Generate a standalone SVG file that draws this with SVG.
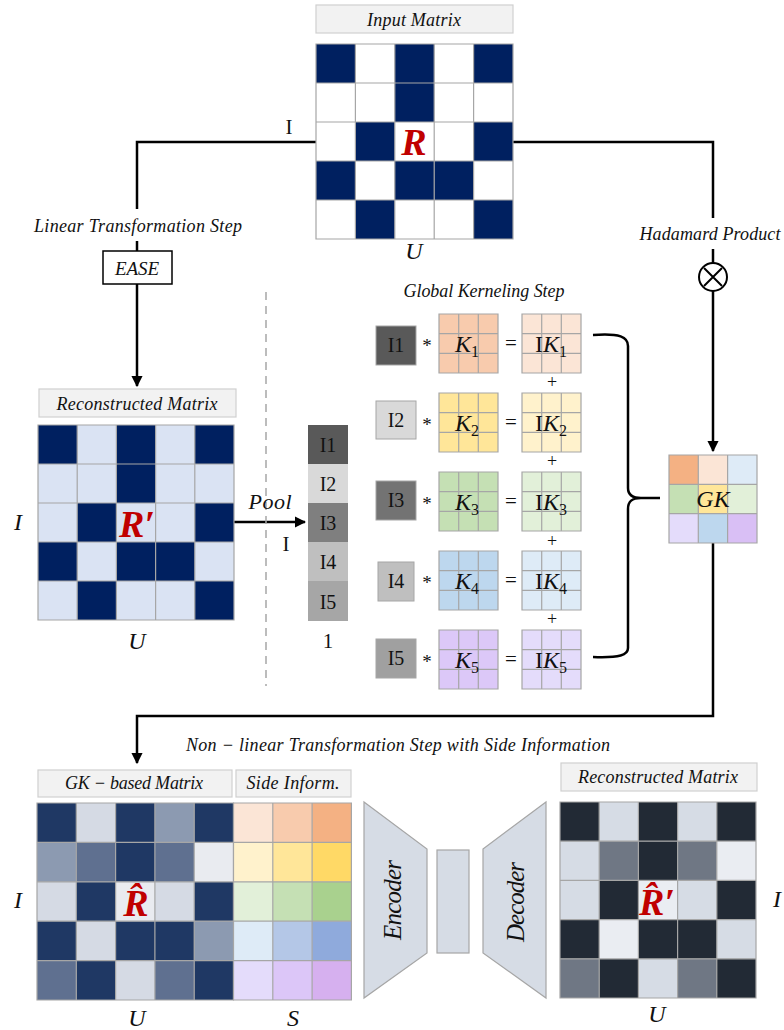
<svg xmlns="http://www.w3.org/2000/svg" width="784" height="1030" viewBox="0 0 784 1030">
<defs>
<style>
.t{font-family:"Liberation Serif",serif;font-style:italic;fill:#111}
.u{font-family:"Liberation Serif",serif;fill:#111}
.lbl{fill:#f2f2f2;stroke:#d0d0d0;stroke-width:1.2}
.gl{fill:none;stroke:#a6a6a6;stroke-width:1.2}
.big{font-family:"Liberation Serif",serif;font-style:italic;font-weight:bold;fill:#c00000}
.con{fill:none;stroke:#000;stroke-width:2.5}
</style>
<marker id="ah" viewBox="0 0 10 10" refX="9" refY="5" markerWidth="4.5" markerHeight="4.5" orient="auto"><path d="M0,0 L10,5 L0,10 z" fill="#000"/></marker>
</defs>
<rect width="784" height="1030" fill="#fff"/>

<g id="connectors">
<path class="con" d="M316,142 H137 V209"/>
<path class="con" d="M137,241 V251"/>
<path class="con" d="M137,284 V386" marker-end="url(#ah)"/>
<path class="con" d="M513,142 H713 V218"/>
<path class="con" d="M713,249 V263"/>
<path class="con" d="M713,291 V451" marker-end="url(#ah)"/>
<path class="con" d="M234,522 H305" marker-end="url(#ah)"/>
<path class="con" d="M713,543 V716 H137 V763" marker-end="url(#ah)"/>
<path class="con" d="M593,335 C620,333 628,337 628,346 L628,488 C628,495 632,498 641,498 L660,498 M641,498 C632,498 628,501 628,509 L628,648 C628,655 620,658 593,657"/>
<line x1="266" y1="292" x2="266" y2="686" stroke="#a6a6a6" stroke-width="1.5" stroke-dasharray="8,6"/>
</g>

<g id="labels-steps">
<text class="t" x="138" y="232" font-size="18" text-anchor="middle" textLength="208">Linear Transformation Step</text>
<text class="t" x="710" y="240" font-size="18" text-anchor="middle" textLength="141">Hadamard Product</text>
<text class="t" x="484" y="297" font-size="18" text-anchor="middle" textLength="161">Global Kerneling Step</text>
<text class="t" x="398" y="751" font-size="18" text-anchor="middle" textLength="424">Non − linear Transformation Step with Side Information</text>
<text class="t" x="270" y="509" font-size="22" text-anchor="middle" textLength="43">Pool</text>
<text class="u" x="289" y="134" font-size="21" text-anchor="middle">I</text>
<text class="u" x="286" y="551" font-size="21" text-anchor="middle">I</text>
</g>

<g id="ease">
<rect x="103" y="251" width="69" height="33" fill="#fff" stroke="#000" stroke-width="1.5"/>
<text class="t" x="137" y="275" font-size="19" text-anchor="middle" textLength="44">EASE</text>
</g>

<g id="hadamard">
<circle cx="713" cy="277" r="14" fill="#fff" stroke="#000" stroke-width="2"/>
<path d="M704,268 L722,286 M722,268 L704,286" stroke="#000" stroke-width="2"/>
</g>

<g id="input-matrix">
<rect class="lbl" x="316" y="5" width="197" height="28"/>
<text class="t" x="414" y="26" font-size="18" text-anchor="middle" textLength="94">Input Matrix</text>
<rect x="316" y="44" width="197" height="195" fill="#fff"/>
<g fill="#002060">
<rect x="316" y="44" width="39.4" height="39"/><rect x="394.8" y="44" width="39.4" height="39"/><rect x="473.6" y="44" width="39.4" height="39"/>
<rect x="394.8" y="83" width="39.4" height="39"/>
<rect x="355.4" y="122" width="39.4" height="39"/><rect x="473.6" y="122" width="39.4" height="39"/>
<rect x="316" y="161" width="39.4" height="39"/><rect x="394.8" y="161" width="39.4" height="39"/><rect x="434.2" y="161" width="39.4" height="39"/>
<rect x="355.4" y="200" width="39.4" height="39"/><rect x="473.6" y="200" width="39.4" height="39"/>
</g>
<path class="gl" d="M316,44 H513 V239 H316 Z M355.4,44 V239 M394.8,44 V239 M434.2,44 V239 M473.6,44 V239 M316,83 H513 M316,122 H513 M316,161 H513 M316,200 H513"/>
<text class="big" x="414" y="155" font-size="38" text-anchor="middle">R</text>
<text class="t" x="414" y="259" font-size="24" text-anchor="middle">U</text>
</g>

<g id="reconstructed-matrix">
<rect class="lbl" x="39" y="389" width="197" height="28"/>
<text class="t" x="137" y="410" font-size="18" text-anchor="middle" textLength="161">Reconstructed Matrix</text>
<rect x="38" y="425" width="196" height="195" fill="#dae3f3"/>
<g fill="#002060">
<rect x="38" y="425" width="39.2" height="39"/><rect x="116.4" y="425" width="39.2" height="39"/><rect x="194.8" y="425" width="39.2" height="39"/>
<rect x="116.4" y="464" width="39.2" height="39"/>
<rect x="77.2" y="503" width="39.2" height="39"/><rect x="194.8" y="503" width="39.2" height="39"/>
<rect x="38" y="542" width="39.2" height="39"/><rect x="116.4" y="542" width="39.2" height="39"/><rect x="155.6" y="542" width="39.2" height="39"/>
<rect x="77.2" y="581" width="39.2" height="39"/><rect x="194.8" y="581" width="39.2" height="39"/>
</g>
<path class="gl" d="M38,425 H234 V620 H38 Z M77.2,425 V620 M116.4,425 V620 M155.6,425 V620 M194.8,425 V620 M38,464 H234 M38,503 H234 M38,542 H234 M38,581 H234"/>
<text class="big" x="137" y="537" font-size="38" text-anchor="middle">R′</text>
<text class="t" x="18" y="530" font-size="24" text-anchor="middle">I</text>
<text class="t" x="137" y="649" font-size="24" text-anchor="middle">U</text>
</g>

<g id="pooled-vector">
<rect x="308" y="425" width="40" height="39" fill="#595959"/>
<rect x="308" y="464" width="40" height="39" fill="#d9d9d9"/>
<rect x="308" y="503" width="40" height="39" fill="#7f7f7f"/>
<rect x="308" y="542" width="40" height="39" fill="#bfbfbf"/>
<rect x="308" y="581" width="40" height="40" fill="#a6a6a6"/>
<g class="u" font-size="20" text-anchor="middle">
<text x="328" y="452">I1</text><text x="328" y="491">I2</text><text x="328" y="530">I3</text><text x="328" y="569">I4</text><text x="328" y="609">I5</text>
</g>
<text class="u" x="328" y="648" font-size="21" text-anchor="middle">1</text>
</g>

<g id="kernel-1">
<rect x="376" y="326" width="40" height="39" fill="#595959" stroke="#a6a6a6"/>
<text class="u" x="396" y="352" font-size="20" text-anchor="middle">I1</text>
<text class="u" x="427" y="352" font-size="19" text-anchor="middle">*</text>
<rect x="439" y="314" width="59" height="59" fill="#f8cbad"/>
<path class="gl" d="M439,314 h59 v59 h-59 z M458.7,314 v59 M478.3,314 v59 M439,333.7 h59 M439,353.3 h59"/>
<text class="t" x="467" y="352" font-size="24" text-anchor="middle">K<tspan font-style="normal" font-size="16" dy="5">1</tspan></text>
<text class="u" x="511" y="350" font-size="21" text-anchor="middle">=</text>
<rect x="522" y="314" width="59" height="59" fill="#fbe5d6"/>
<path class="gl" d="M522,314 h59 v59 h-59 z M541.7,314 v59 M561.3,314 v59 M522,333.7 h59 M522,353.3 h59"/>
<text class="u" x="551" y="352" font-size="24" text-anchor="middle">I<tspan font-style="italic">K</tspan><tspan font-size="16" dy="5">1</tspan></text>
<text class="u" x="552" y="388" font-size="18" text-anchor="middle">+</text>
</g>

<g id="kernel-2">
<rect x="376" y="401" width="40" height="38" fill="#d9d9d9" stroke="#a6a6a6"/>
<text class="u" x="396" y="427" font-size="20" text-anchor="middle">I2</text>
<text class="u" x="427" y="431" font-size="19" text-anchor="middle">*</text>
<rect x="439" y="393" width="59" height="59" fill="#ffe699"/>
<path class="gl" d="M439,393 h59 v59 h-59 z M458.7,393 v59 M478.3,393 v59 M439,412.7 h59 M439,432.3 h59"/>
<text class="t" x="467" y="431" font-size="24" text-anchor="middle">K<tspan font-style="normal" font-size="16" dy="5">2</tspan></text>
<text class="u" x="511" y="429" font-size="21" text-anchor="middle">=</text>
<rect x="522" y="393" width="59" height="59" fill="#fff2cc"/>
<path class="gl" d="M522,393 h59 v59 h-59 z M541.7,393 v59 M561.3,393 v59 M522,412.7 h59 M522,432.3 h59"/>
<text class="u" x="551" y="431" font-size="24" text-anchor="middle">I<tspan font-style="italic">K</tspan><tspan font-size="16" dy="5">2</tspan></text>
<text class="u" x="552" y="467" font-size="18" text-anchor="middle">+</text>
</g>

<g id="kernel-3">
<rect x="376" y="481" width="40" height="39" fill="#737373" stroke="#a6a6a6"/>
<text class="u" x="396" y="507" font-size="20" text-anchor="middle">I3</text>
<text class="u" x="427" y="510" font-size="19" text-anchor="middle">*</text>
<rect x="439" y="472" width="59" height="59" fill="#c5e0b4"/>
<path class="gl" d="M439,472 h59 v59 h-59 z M458.7,472 v59 M478.3,472 v59 M439,491.7 h59 M439,511.3 h59"/>
<text class="t" x="467" y="510" font-size="24" text-anchor="middle">K<tspan font-style="normal" font-size="16" dy="5">3</tspan></text>
<text class="u" x="511" y="508" font-size="21" text-anchor="middle">=</text>
<rect x="522" y="472" width="59" height="59" fill="#e2f0d9"/>
<path class="gl" d="M522,472 h59 v59 h-59 z M541.7,472 v59 M561.3,472 v59 M522,491.7 h59 M522,511.3 h59"/>
<text class="u" x="551" y="510" font-size="24" text-anchor="middle">I<tspan font-style="italic">K</tspan><tspan font-size="16" dy="5">3</tspan></text>
<text class="u" x="552" y="547" font-size="18" text-anchor="middle">+</text>
</g>

<g id="kernel-4">
<rect x="378" y="562" width="36" height="39" fill="#bfbfbf" stroke="#a6a6a6"/>
<text class="u" x="396" y="588" font-size="20" text-anchor="middle">I4</text>
<text class="u" x="427" y="589" font-size="19" text-anchor="middle">*</text>
<rect x="439" y="551" width="59" height="59" fill="#bdd7ee"/>
<path class="gl" d="M439,551 h59 v59 h-59 z M458.7,551 v59 M478.3,551 v59 M439,570.7 h59 M439,590.3 h59"/>
<text class="t" x="467" y="589" font-size="24" text-anchor="middle">K<tspan font-style="normal" font-size="16" dy="5">4</tspan></text>
<text class="u" x="511" y="587" font-size="21" text-anchor="middle">=</text>
<rect x="522" y="551" width="59" height="59" fill="#deebf7"/>
<path class="gl" d="M522,551 h59 v59 h-59 z M541.7,551 v59 M561.3,551 v59 M522,570.7 h59 M522,590.3 h59"/>
<text class="u" x="551" y="589" font-size="24" text-anchor="middle">I<tspan font-style="italic">K</tspan><tspan font-size="16" dy="5">4</tspan></text>
<text class="u" x="552" y="625" font-size="18" text-anchor="middle">+</text>
</g>

<g id="kernel-5">
<rect x="376" y="639" width="40" height="39" fill="#a0a0a0" stroke="#a6a6a6"/>
<text class="u" x="396" y="665" font-size="20" text-anchor="middle">I5</text>
<text class="u" x="427" y="668" font-size="19" text-anchor="middle">*</text>
<rect x="439" y="630" width="59" height="59" fill="#dcc8f8"/>
<path class="gl" d="M439,630 h59 v59 h-59 z M458.7,630 v59 M478.3,630 v59 M439,649.7 h59 M439,669.3 h59"/>
<text class="t" x="467" y="668" font-size="24" text-anchor="middle">K<tspan font-style="normal" font-size="16" dy="5">5</tspan></text>
<text class="u" x="511" y="666" font-size="21" text-anchor="middle">=</text>
<rect x="522" y="630" width="59" height="59" fill="#e4dcfb"/>
<path class="gl" d="M522,630 h59 v59 h-59 z M541.7,630 v59 M561.3,630 v59 M522,649.7 h59 M522,669.3 h59"/>
<text class="u" x="551" y="668" font-size="24" text-anchor="middle">I<tspan font-style="italic">K</tspan><tspan font-size="16" dy="5">5</tspan></text>
</g>

<g id="gk-matrix">
<rect x="669" y="455" width="29.3" height="29.3" fill="#f4b183"/>
<rect x="698.3" y="455" width="29.3" height="29.3" fill="#fbe5d6"/>
<rect x="727.6" y="455" width="29.4" height="29.3" fill="#deebf7"/>
<rect x="669" y="484.3" width="29.3" height="29.4" fill="#c5e0b4"/>
<rect x="698.3" y="484.3" width="29.3" height="29.4" fill="#ffe699"/>
<rect x="727.6" y="484.3" width="29.4" height="29.4" fill="#e2f0d9"/>
<rect x="669" y="513.7" width="29.3" height="29.3" fill="#e4dcfb"/>
<rect x="698.3" y="513.7" width="29.3" height="29.3" fill="#bdd7ee"/>
<rect x="727.6" y="513.7" width="29.4" height="29.3" fill="#d9bff5"/>
<path class="gl" d="M669,455 H757 V543 H669 Z M698.3,455 V543 M727.6,455 V543 M669,484.3 H757 M669,513.7 H757"/>
<text class="t" x="713" y="507" font-size="24" text-anchor="middle">GK</text>
</g>

<g id="gk-based-matrix">
<rect class="lbl" x="38" y="770" width="194" height="27"/>
<text class="t" x="134" y="789" font-size="18" text-anchor="middle" textLength="138">GK − based Matrix</text>
<rect x="37" y="803" width="196.5" height="197" fill="#d5dae4"/>
<g fill="#1f3864">
<rect x="37" y="803" width="39.3" height="39.4"/><rect x="115.6" y="803" width="39.3" height="39.4"/><rect x="194.2" y="803" width="39.3" height="39.4"/>
<rect x="115.6" y="842.4" width="39.3" height="39.4"/>
<rect x="76.3" y="881.8" width="39.3" height="39.4"/><rect x="194.2" y="881.8" width="39.3" height="39.4"/>
<rect x="37" y="921.2" width="39.3" height="39.4"/><rect x="115.6" y="921.2" width="39.3" height="39.4"/><rect x="154.9" y="921.2" width="39.3" height="39.4"/>
<rect x="76.3" y="960.6" width="39.3" height="39.4"/><rect x="194.2" y="960.6" width="39.3" height="39.4"/>
</g>
<g fill="#8c9ab1">
<rect x="154.9" y="803" width="39.3" height="39.4"/><rect x="37" y="842.4" width="39.3" height="39.4"/><rect x="194.2" y="921.2" width="39.3" height="39.4"/>
</g>
<g fill="#5f7090">
<rect x="76.3" y="842.4" width="39.3" height="39.4"/><rect x="154.9" y="842.4" width="39.3" height="39.4"/><rect x="37" y="960.6" width="39.3" height="39.4"/><rect x="154.9" y="960.6" width="39.3" height="39.4"/>
</g>
<g fill="#e9ebf0">
<rect x="194.2" y="842.4" width="39.3" height="39.4"/><rect x="115.6" y="881.8" width="39.3" height="39.4"/>
</g>
<path class="gl" d="M37,803 H233.5 V1000 H37 Z M76.3,803 V1000 M115.6,803 V1000 M154.9,803 V1000 M194.2,803 V1000 M37,842.4 H233.5 M37,881.8 H233.5 M37,921.2 H233.5 M37,960.6 H233.5"/>
<text class="big" x="136" y="916" font-size="38" text-anchor="middle">R̂</text>
<text class="t" x="18" y="908" font-size="24" text-anchor="middle">I</text>
<text class="t" x="137" y="1026" font-size="24" text-anchor="middle">U</text>
</g>

<g id="side-information">
<rect class="lbl" x="236" y="770" width="115" height="27"/>
<text class="t" x="293" y="789" font-size="18" text-anchor="middle" textLength="93">Side Inform.</text>
<rect x="233.5" y="803" width="39.3" height="39.4" fill="#fbe5d6"/><rect x="272.8" y="803" width="39.3" height="39.4" fill="#f8cbad"/><rect x="312.1" y="803" width="39.3" height="39.4" fill="#f4b183"/>
<rect x="233.5" y="842.4" width="39.3" height="39.4" fill="#fff2cc"/><rect x="272.8" y="842.4" width="39.3" height="39.4" fill="#ffe699"/><rect x="312.1" y="842.4" width="39.3" height="39.4" fill="#ffd966"/>
<rect x="233.5" y="881.8" width="39.3" height="39.4" fill="#e2f0d9"/><rect x="272.8" y="881.8" width="39.3" height="39.4" fill="#c5e0b4"/><rect x="312.1" y="881.8" width="39.3" height="39.4" fill="#a9d18e"/>
<rect x="233.5" y="921.2" width="39.3" height="39.4" fill="#deebf7"/><rect x="272.8" y="921.2" width="39.3" height="39.4" fill="#b4c7e7"/><rect x="312.1" y="921.2" width="39.3" height="39.4" fill="#8faadc"/>
<rect x="233.5" y="960.6" width="39.3" height="39.4" fill="#e4dcfb"/><rect x="272.8" y="960.6" width="39.3" height="39.4" fill="#dcc6f8"/><rect x="312.1" y="960.6" width="39.3" height="39.4" fill="#d6b0ef"/>
<path class="gl" d="M233.5,803 H351.4 V1000 H233.5 Z M272.8,803 V1000 M312.1,803 V1000 M233.5,842.4 H351.4 M233.5,881.8 H351.4 M233.5,921.2 H351.4 M233.5,960.6 H351.4"/>
<text class="t" x="293" y="1026" font-size="24" text-anchor="middle">S</text>
</g>

<g id="encoder">
<path d="M364,802 L427,849 L427,953 L364,998 Z" fill="#d6dce5" stroke="#a6a6a6" stroke-width="1.2"/>
<text class="t" transform="translate(401,900) rotate(-90)" font-size="25" text-anchor="middle" textLength="80">Encoder</text>
</g>
<g id="latent">
<rect x="437" y="850" width="32" height="103" fill="#d6dce5" stroke="#a6a6a6" stroke-width="1.2"/>
</g>
<g id="decoder">
<path d="M483,849 L546,802 L546,998 L483,953 Z" fill="#d6dce5" stroke="#a6a6a6" stroke-width="1.2"/>
<text class="t" transform="translate(524,902) rotate(-90)" font-size="25" text-anchor="middle" textLength="80">Decoder</text>
</g>

<g id="output-matrix">
<rect class="lbl" x="561" y="763" width="196" height="28"/>
<text class="t" x="658" y="783" font-size="18" text-anchor="middle" textLength="160">Reconstructed Matrix</text>
<rect x="560" y="802" width="196" height="196" fill="#d6dce5"/>
<g fill="#222a35">
<rect x="560" y="802" width="39.2" height="39.2"/><rect x="638.4" y="802" width="39.2" height="39.2"/><rect x="716.8" y="802" width="39.2" height="39.2"/>
<rect x="638.4" y="841.2" width="39.2" height="39.2"/>
<rect x="599.2" y="880.4" width="39.2" height="39.2"/><rect x="716.8" y="880.4" width="39.2" height="39.2"/>
<rect x="560" y="919.6" width="39.2" height="39.2"/><rect x="638.4" y="919.6" width="39.2" height="39.2"/><rect x="677.6" y="919.6" width="39.2" height="39.2"/>
<rect x="599.2" y="958.8" width="39.2" height="39.2"/><rect x="716.8" y="958.8" width="39.2" height="39.2"/>
</g>
<g fill="#6f7784">
<rect x="599.2" y="841.2" width="39.2" height="39.2"/><rect x="677.6" y="841.2" width="39.2" height="39.2"/><rect x="560" y="958.8" width="39.2" height="39.2"/><rect x="677.6" y="958.8" width="39.2" height="39.2"/>
</g>
<g fill="#eaedf2">
<rect x="716.8" y="841.2" width="39.2" height="39.2"/><rect x="638.4" y="880.4" width="39.2" height="39.2"/><rect x="599.2" y="919.6" width="39.2" height="39.2"/>
</g>
<path class="gl" d="M560,802 H756 V998 H560 Z M599.2,802 V998 M638.4,802 V998 M677.6,802 V998 M716.8,802 V998 M560,841.2 H756 M560,880.4 H756 M560,919.6 H756 M560,958.8 H756"/>
<text class="big" x="657" y="915" font-size="38" text-anchor="middle">R̂′</text>
<text class="t" x="777" y="907" font-size="24" text-anchor="middle">I</text>
<text class="t" x="657" y="1022" font-size="24" text-anchor="middle">U</text>
</g>
</svg>
